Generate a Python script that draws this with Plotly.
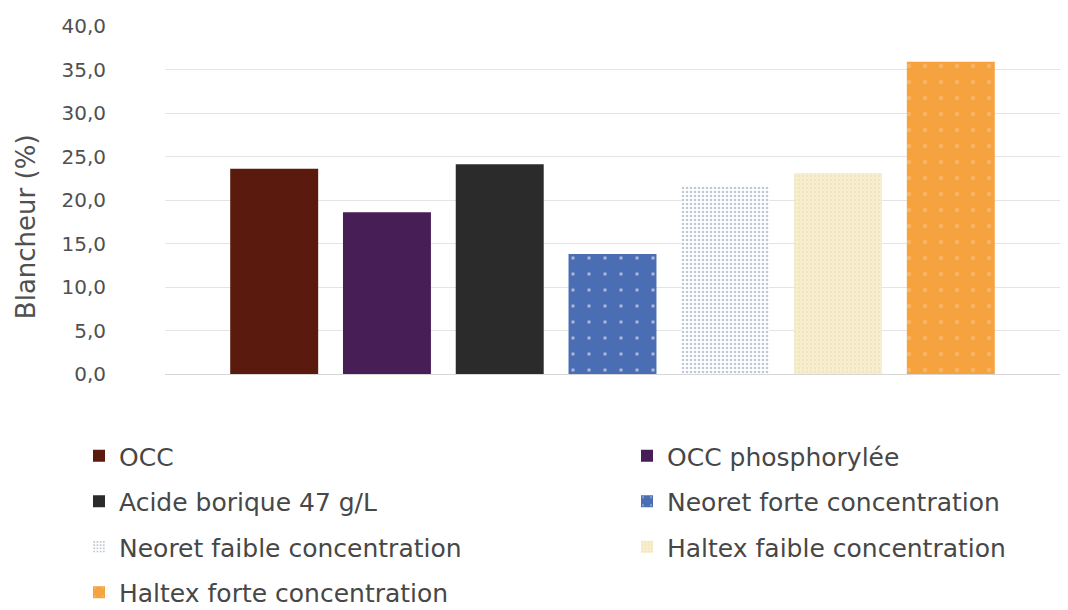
import plotly.graph_objects as go

# Whiteness measured for each treatment (%)
treatments = [
    "OCC",
    "OCC phosphorylée",
    "Acide borique 47 g/L",
    "Neoret forte concentration",
    "Neoret faible concentration",
    "Haltex faible concentration",
    "Haltex forte concentration",
]
blancheur = [23.6, 18.6, 24.1, 13.8, 21.6, 23.1, 35.9]

y_ticks = [0, 5, 10, 15, 20, 25, 30, 35, 40]
y_title = "Blancheur (%)"

# Fill style per treatment: (background colour, pattern shape, dot colour, dot spacing, solidity)
fills = [
    ("#5a1a0d", "", None, None, None),
    ("#481e57", "", None, None, None),
    ("#2b2b2b", "", None, None, None),
    ("#4a6db3", ".", "#ffffff", 16, 0.04),
    ("#ffffff", ".", "#8494ab", 4, 0.35),
    ("#f8eece", ".", "#eadbb0", 4, 0.35),
    ("#f6a23f", ".", "#f9c684", 16, 0.06),
]

# Two legend columns, items listed row by row
legend_of = ["legend", "legend2", "legend", "legend2", "legend", "legend2", "legend"]

fig = go.Figure()
for i, (name, val) in enumerate(zip(treatments, blancheur)):
    bg, shape, fg, size, sol = fills[i]
    marker = dict(color=bg, line=dict(width=0))
    if shape:
        marker["pattern"] = dict(shape=shape, fgcolor=fg, bgcolor=bg,
                                 size=size, solidity=sol, fillmode="overlay")
    fig.add_trace(go.Bar(
        x=[0], y=[val], name=name, marker=marker,
        legend=legend_of[i], legendgroup=name,
    ))

font_family = "DejaVu Sans"
txt_color = "#505050"
legend_font = dict(size=25, color="#474747", family=font_family)

fig.update_layout(
    width=1068, height=610,
    margin=dict(l=165, r=8, t=26, b=236, autoexpand=False),
    paper_bgcolor="white", plot_bgcolor="white",
    barmode="group", bargap=0.118, bargroupgap=0.22,
    separators=", ",
    font=dict(family=font_family, color=txt_color),
    xaxis=dict(range=[-0.5, 0.5], showticklabels=False, showgrid=False,
               zeroline=False, showline=False, ticks="", automargin=False),
    yaxis=dict(
        range=[0, 40], tickvals=y_ticks, tickformat=".1f", automargin=False,
        showgrid=True, gridcolor="#e4e4e4", gridwidth=1,
        zeroline=True, zerolinecolor="#d6d6d6", zerolinewidth=1,
        showline=False, ticks="outside", ticklen=54, tickcolor="rgba(0,0,0,0)",
        tickfont=dict(size=20, color=txt_color, family=font_family),
    ),
    legend=dict(
        xref="container", yref="container", x=79 / 1068, y=1 - 433 / 610,
        xanchor="left", yanchor="top", orientation="v",
        font=legend_font, tracegroupgap=10, bgcolor="rgba(0,0,0,0)",
    ),
    legend2=dict(
        xref="container", yref="container", x=627 / 1068, y=1 - 433 / 610,
        xanchor="left", yanchor="top", orientation="v",
        font=legend_font, tracegroupgap=10, bgcolor="rgba(0,0,0,0)",
    ),
    showlegend=True,
)

# Vertical value-axis title to the left of the tick labels
fig.add_annotation(
    text=y_title, textangle=-90, showarrow=False,
    xref="paper", yref="paper", x=(26 - 165) / 895, y=0.422,
    xanchor="center", yanchor="middle",
    font=dict(size=26, color=txt_color, family=font_family),
)

fig.write_html("out.html")
